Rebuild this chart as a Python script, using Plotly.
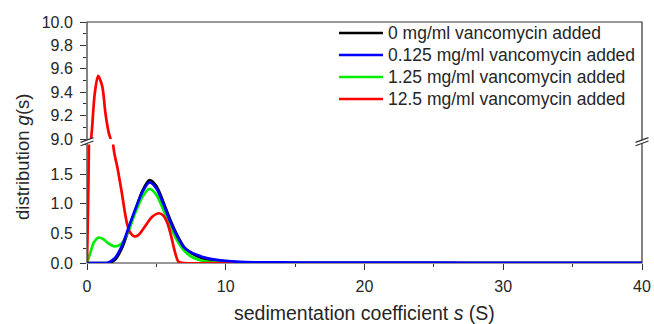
import plotly.graph_objects as go

# ---------------- data ----------------
s_main = [0, 0.5, 1, 1.5, 2, 2.5, 3, 3.5, 4, 4.5, 5, 5.5, 6, 6.5, 7, 7.5, 8, 8.5,
          9, 10, 11, 12, 14, 17, 20, 25, 30, 35, 40]

g_0 = [0, 0, 0, 0, 0.05, 0.24, 0.56, 0.9, 1.22, 1.40, 1.30, 1.03, 0.73, 0.47, 0.27,
       0.17, 0.11, 0.07, 0.05, 0.025, 0.012, 0.005, 0, 0, 0, 0, 0, 0, 0]

g_0125 = [0, 0, 0, 0.005, 0.08, 0.28, 0.6, 0.92, 1.2, 1.36, 1.26, 1.0, 0.7, 0.45,
          0.26, 0.18, 0.13, 0.09, 0.065, 0.035, 0.02, 0.013, 0.01, 0.008, 0.006,
          0.005, 0.004, 0.003, 0.003]

s_green = [0, 0.25, 0.5, 0.85, 1.2, 1.5, 2, 2.5, 3, 3.5, 4, 4.5, 5, 5.5, 6, 6.5,
           7, 7.5, 8, 8.5, 9, 10, 11, 40]
g_125 = [0, 0.18, 0.35, 0.43, 0.40, 0.34, 0.28, 0.33, 0.55, 0.86, 1.12, 1.25, 1.15,
         0.9, 0.62, 0.38, 0.21, 0.11, 0.06, 0.03, 0.015, 0.005, 0, 0]

s_red = [0, 0.05, 0.1, 0.15, 0.25, 0.37, 0.56, 0.8, 1.1, 1.33, 1.57, 1.69, 1.79,
         1.9, 2.2, 2.5, 2.7, 2.9, 3.1, 3.4, 3.7, 4.1, 4.7, 5.2, 5.5, 5.8, 6.1, 6.3,
         6.6, 7, 10, 20, 30, 40]
g_125b = [0, 0.6, 1.3, 2.2, 8.9, 9.1, 9.39, 9.54, 9.45, 9.22, 9.05, 9.0, 5.5,
          1.97, 1.6, 1.2, 0.9, 0.65, 0.52, 0.45, 0.47, 0.59, 0.78, 0.84, 0.8, 0.67,
          0.42, 0.22, 0.02, 0, 0, 0, 0, 0]

series_names = ["0 mg/ml vancomycin added", "0.125 mg/ml vancomycin added",
                "1.25 mg/ml vancomycin added", "12.5 mg/ml vancomycin added"]
series_colors = ["#000000", "#0000ff", "#00ee00", "#ff0000"]

x_ticks = [0, 10, 20, 30, 40]
y_low_ticks = [0, 0.5, 1.0, 1.5]
y_high_ticks = [9.0, 9.2, 9.4, 9.6, 9.8, 10.0]

FONT = "Liberation Sans, Arial, sans-serif"
TXT = "#262626"

# drawing order (blue on top)
series = [
    (s_main, g_0, 0),
    (s_green, g_125, 2),
    (s_red, g_125b, 3),
    (s_main, g_0125, 1),
]

fig = go.Figure()
for xs, ys, idx in series:
    for yax in ("y", "y2"):
        fig.add_trace(go.Scatter(
            x=xs, y=ys, mode="lines", name=series_names[idx],
            line=dict(color=series_colors[idx], width=2.7, shape="spline", smoothing=0.8),
            xaxis="x", yaxis=yax, showlegend=False, hoverinfo="skip"))

W, H = 654, 324
L, R, T, B = 87, 12, 22, 61
pw, ph = W - L - R, H - T - B
lo_top = (263 - 144.5) / ph
hi_bot = (263 - 139) / ph

def px_x(px):
    return (px - L) / pw

def px_y(py):
    return (H - B - py) / ph

common_tick = dict(ticks="outside", ticklen=6, tickwidth=1.2, tickcolor="#333",
                   showgrid=False, zeroline=False, showline=False, automargin=False,
                   tickfont=dict(family=FONT, size=16, color=TXT))

fig.update_layout(
    width=W, height=H,
    margin=dict(l=L, r=R, t=T, b=B, autoexpand=False),
    paper_bgcolor="white", plot_bgcolor="white",
    showlegend=False,
    xaxis=dict(domain=[0, 1], range=[0, 40], anchor="y", tickvals=x_ticks,
               ticktext=[str(v) for v in x_ticks],
               minor=dict(dtick=5, tick0=0, ticks="outside", ticklen=3, tickcolor="#333"),
               ticklabelstandoff=3, **common_tick),
    yaxis=dict(domain=[0, lo_top], range=[0, 2.0], anchor="x", tickvals=y_low_ticks,
               ticktext=["%.1f" % v for v in y_low_ticks],
               minor=dict(dtick=0.25, tick0=0, ticks="outside", ticklen=3, tickcolor="#333"),
               ticklabelstandoff=4, **common_tick),
    yaxis2=dict(domain=[hi_bot, 1], range=[9.0, 10.0], anchor="x", tickvals=y_high_ticks,
                ticktext=["%.1f" % v for v in y_high_ticks],
                minor=dict(dtick=0.1, tick0=9.0, ticks="outside", ticklen=3, tickcolor="#333"),
                ticklabelstandoff=4, **common_tick),
)

shapes = [dict(type="rect", xref="paper", yref="paper", x0=0, x1=1, y0=0, y1=1,
               line=dict(color="#333", width=1.2), layer="below")]

# axis break marks on left and right borders
yc = px_y(141.7)
dxp, dyp = 1.0 / pw, 1.0 / ph
for xc in (0.0, 1.0):
    hw, rise, sep = 6.5, 2.4, 1.7
    ax0, ax1 = xc - hw * dxp, xc + hw * dxp
    l0a, l0b = yc - sep * dyp - rise * dyp, yc - sep * dyp + rise * dyp
    u0a, u0b = yc + sep * dyp - rise * dyp, yc + sep * dyp + rise * dyp
    shapes.append(dict(type="path", xref="paper", yref="paper", layer="above",
                       path=f"M {ax0} {l0a} L {ax1} {l0b} L {ax1} {u0b} L {ax0} {u0a} Z",
                       fillcolor="white", line=dict(width=0)))
    shapes.append(dict(type="line", xref="paper", yref="paper", layer="above",
                       x0=ax0, y0=l0a, x1=ax1, y1=l0b, line=dict(color="#333", width=1.2)))
    shapes.append(dict(type="line", xref="paper", yref="paper", layer="above",
                       x0=ax0, y0=u0a, x1=ax1, y1=u0b, line=dict(color="#333", width=1.2)))

# legend (keys + labels), in legend order
legend_rows = [33, 55, 77, 99]
for i, (name, col) in enumerate(zip(series_names, series_colors)):
    ry = px_y(legend_rows[i])
    shapes.append(dict(type="line", xref="paper", yref="paper", layer="above",
                       x0=px_x(339), x1=px_x(383), y0=ry, y1=ry,
                       line=dict(color=col, width=2.7)))
    fig.add_annotation(text=name, xref="paper", yref="paper", x=px_x(386), y=ry,
                       xanchor="left", yanchor="middle", showarrow=False,
                       font=dict(family=FONT, size=17.5, color=TXT))
fig.update_layout(shapes=shapes)

fig.add_annotation(text="sedimentation coefficient <i>s</i> (S)", xref="paper", yref="paper",
                   x=px_x(364), y=0, yshift=-(313 - 263), xanchor="center", yanchor="middle",
                   showarrow=False, font=dict(family=FONT, size=19.5, color=TXT))
fig.add_annotation(text="distribution <i>g</i>(s)", xref="paper", yref="paper",
                   x=0, xshift=-(87 - 22), y=px_y(157), xanchor="center",
                   yanchor="middle", textangle=-90, showarrow=False,
                   font=dict(family=FONT, size=18.5, color=TXT))

fig.write_html("out.html", config={"displayModeBar": False},
               post_script="document.body.style.margin='0';document.body.style.padding='0';")
